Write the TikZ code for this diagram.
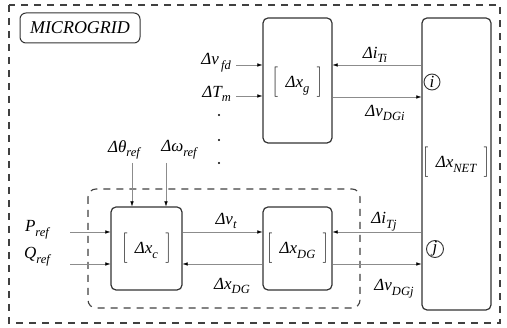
\documentclass[tikz,border=0pt]{standalone}
\usepackage{fontspec}
\setmainfont{Liberation Serif}
\usetikzlibrary{arrows.meta}
\newcommand{\lsub}[1]{\raisebox{-0.6ex}{\fontsize{12.5}{13}\selectfont #1}}
\newcommand{\brk}[1]{$\left[\vcenter{\hbox{\rule[-9pt]{0pt}{30pt}\;\,#1\;\,}}\right]$}
\begin{document}
\begin{tikzpicture}[x=1pt,y=-1pt,
  blk/.style={draw=black!80,line width=1.2pt,rounded corners=5pt},
  sig/.style={draw=black!45,line width=0.5pt,-{Latex[length=5pt,width=3.5pt,black]}},
  lab/.style={inner sep=0pt,font=\fontsize{17}{19}\selectfont\itshape},
  frame/.style={draw=black!75,line width=1.1pt,dash pattern=on 7pt off 6pt}]
\useasboundingbox (0,0) rectangle (507,328);
% outer frame
\draw[frame] (9,5) rectangle (500,323);
\node[draw=black!80,line width=1pt,rounded corners=6pt,minimum width=120pt,minimum height=30pt,inner sep=0pt,font=\fontsize{18}{20}\selectfont\itshape] (micro) at (80,28) {MICROGRID};
% inner dashed group
\draw[frame,rounded corners=8pt] (88,189) rectangle (360,308);
% blocks
\node[blk,minimum width=69pt,minimum height=125pt,inner sep=0pt] (xg) at (297.5,80.5) {};
\node[lab] (xgt) at (297.5,82) {\brk{Δx\lsub{g}}};
\node[blk,minimum width=69pt,minimum height=292pt,inner sep=0pt] (net) at (456.5,164) {};
\node[lab] (nett) at (456,162) {\brk{Δx\lsub{NET}}};
\node[blk,minimum width=71pt,minimum height=83pt,inner sep=0pt] (xc) at (146.5,248.5) {};
\node[lab] (xct) at (146.5,248) {\brk{Δx\lsub{c}}};
\node[blk,minimum width=69pt,minimum height=83pt,inner sep=0pt] (xdg) at (297.5,248.5) {};
\node[lab] (xdgt) at (297.5,248) {\brk{Δx\lsub{DG}}};
% bus circles
\node[draw=black!80,line width=0.9pt,circle,minimum size=16pt,inner sep=0pt,lab] (ci) at (432,82) {i};
\node[draw=black!80,line width=0.9pt,circle,minimum size=17pt,inner sep=0pt,lab] (cj) at (435,249) {j};
% input labels
\node[lab,anchor=east] (vfd) at (231,63) {Δv\lsub{\,fd}};
\node[lab,anchor=east] (tm) at (231,94) {ΔT\lsub{m}};
\node[lab] (theta) at (124,150) {Δθ\lsub{ref}};
\node[lab] (omega) at (179,150) {Δω\lsub{ref}};
\node[lab] (pref) at (37,230) {P\lsub{ref}};
\node[lab] (qref) at (37,257) {Q\lsub{ref}};
% signal labels
\node[lab] (iti) at (375,55) {Δi\lsub{Ti}};
\node[lab] (vdgi) at (385,113) {Δv\lsub{DGi}};
\node[lab] (vt) at (226,221) {Δv\lsub{t}};
\node[lab] (xdgl) at (232,286) {Δx\lsub{DG}};
\node[lab] (itj) at (384,222) {Δi\lsub{Tj}};
\node[lab] (vdgj) at (394,289) {Δv\lsub{DGj}};
% dots
\foreach \yy/\nm in {115/d1,140/d2,163/d3} \fill (219,\yy) circle (1.1pt) coordinate (\nm);
% coordinates
\coordinate (a1) at (236,65);
\coordinate (a2) at (236,96);
\coordinate (t1) at (132,163);
\coordinate (t2) at (166,163);
\coordinate (p1) at (70,232);
\coordinate (q1) at (70,264);
% connectors
\draw[sig] (a1) -- (xg.west |- a1);
\draw[sig] (a2) -- (xg.west |- a2);
\draw[sig] (net.west |- 0,65) -- (xg.east |- 0,65);
\draw[sig] (xg.east |- 0,97) -- (net.west |- 0,97);
\draw[sig] (t1) -- (xc.north -| t1);
\draw[sig] (t2) -- (xc.north -| t2);
\draw[sig] (p1) -- (xc.west |- p1);
\draw[sig] (q1) -- (xc.west |- q1);
\draw[sig] (xc.east |- 0,232) -- (xdg.west |- 0,232);
\draw[sig] (xdg.west |- 0,264) -- (xc.east |- 0,264);
\draw[sig] (net.west |- 0,232) -- (xdg.east |- 0,232);
\draw[sig] (xdg.east |- 0,264) -- (net.west |- 0,264);
\end{tikzpicture}
\end{document}
